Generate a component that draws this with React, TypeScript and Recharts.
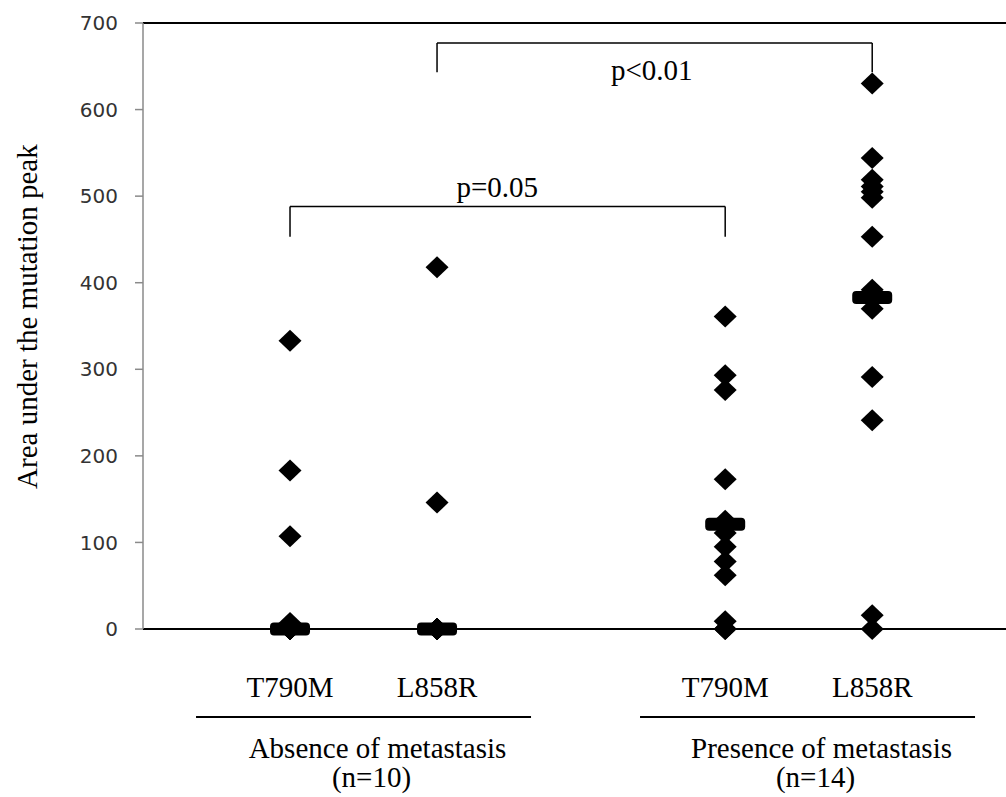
import { ScatterChart, Scatter, XAxis, YAxis, ReferenceLine, ReferenceDot } from 'recharts';

// mutation categories along the x axis
const categories = ['T790M', 'L858R', 'T790M', 'L858R'];
const slots = [1, 2, 3.96, 4.96];

// area under the mutation peak, one value per patient
const absenceT790M = [333, 183, 107, 7, 0, 0, 0, 0, 0, 0];
const absenceL858R = [418, 146, 0, 0, 0, 0, 0, 0, 0, 0];
const presenceT790M = [361, 293, 276, 173, 125, 121, 118, 111, 95, 78, 62, 9, 0, 0];
const presenceL858R = [630, 544, 519, 511, 505, 498, 453, 392, 383, 370, 291, 241, 16, 0];

// horizontal bar per category
const centreValues = [0, 0, 121, 383];

const groups = ['Absence of metastasis', 'Presence of metastasis'];
const groupCounts = ['(n=10)', '(n=14)'];
const groupSlots = [1.5, 4.52];

const yTicks = [0, 100, 200, 300, 400, 500, 600, 700];

// significance brackets
const brackets = [
  { from: 2, to: 4.96, top: 677, leg: 643, text: 'p<0.01', tx: 3.46, ty: 634 },
  { from: 1, to: 3.96, top: 488, leg: 453, text: 'p=0.05', tx: 2.41, ty: 499 },
];

const serif = "'Times New Roman', 'Liberation Serif', serif";

const series = [absenceT790M, absenceL858R, presenceT790M, presenceL858R];
const points = series.flatMap((vals, i) => vals.map((v) => ({ x: slots[i], y: v })));
const centres = centreValues.map((v, i) => ({ x: slots[i], y: v }));
const groupAnchors = groupSlots.map((x) => ({ x, y: 0 }));

const Diamond = ({ cx, cy }: any) => (
  <polygon
    points={`${cx},${cy - 11} ${cx + 11.5},${cy} ${cx},${cy + 11} ${cx - 11.5},${cy}`}
    fill="#000"
  />
);

const CentreBar = ({ cx, cy }: any) => (
  <rect x={cx - 20} y={cy - 6.5} width={40} height={13} rx={4} fill="#000" />
);

const Nothing = () => <g />;

const CategoryTick = ({ x, y, index }: any) => (
  <text x={x} y={y + 68} textAnchor="middle" fontFamily={serif} fontSize={29} fill="#000">
    {categories[index]}
  </text>
);

const GroupTick = ({ x, y, index }: any) => (
  <g>
    <line x1={x - 167.5} x2={x + 167.5} y1={y + 58} y2={y + 58} stroke="#000" strokeWidth={2} />
    <text x={x + 14} y={y + 99} textAnchor="middle" fontFamily={serif} fontSize={29} fill="#000">
      {groups[index]}
    </text>
    <text x={x + 8} y={y + 128} textAnchor="middle" fontFamily={serif} fontSize={29} fill="#000">
      {groupCounts[index]}
    </text>
  </g>
);

const YLabel = ({ viewBox }: any) => {
  const x = viewBox.x + 37;
  const y = viewBox.y + 293.6;
  return (
    <text
      x={x}
      y={y}
      transform={`rotate(-90, ${x}, ${y})`}
      textAnchor="middle"
      fontFamily={serif}
      fontSize={29}
      fill="#000"
    >
      Area under the mutation peak
    </text>
  );
};

const bracketLabel = (text: string) => ({ viewBox }: any) => (
  <text x={viewBox.x} y={viewBox.y} textAnchor="middle" fontFamily={serif} fontSize={29} fill="#000">
    {text}
  </text>
);

export default function App() {
  return (
    <div style={{ position: 'absolute', left: 0, top: 0, background: '#fff' }}>
      <ScatterChart width={1006} height={797} margin={{ top: 23, right: 0, bottom: 0, left: 0 }}>
        <XAxis
          type="number"
          dataKey="x"
          domain={[0, 5.87]}
          ticks={slots}
          interval={0}
          tickLine={false}
          tickSize={0}
          tickMargin={0}
          height={30}
          axisLine={{ stroke: '#000', strokeWidth: 2 }}
          tick={<CategoryTick />}
        />
        <XAxis
          xAxisId="groups"
          type="number"
          dataKey="x"
          domain={[0, 5.87]}
          ticks={groupSlots}
          interval={0}
          tickLine={false}
          tickSize={0}
          tickMargin={0}
          height={138}
          axisLine={false}
          tick={<GroupTick />}
        />
        <YAxis
          type="number"
          dataKey="y"
          domain={[0, 700]}
          ticks={yTicks}
          interval={0}
          width={143}
          tickSize={8}
          tickMargin={17}
          axisLine={{ stroke: '#8a8a8a', strokeWidth: 1.5 }}
          tickLine={{ stroke: '#8a8a8a', strokeWidth: 1.5 }}
          tick={{ fill: '#333', fontSize: 20, fontFamily: "'DejaVu Sans', Verdana, sans-serif" }}
          label={<YLabel />}
        />
        <ReferenceLine y={700} stroke="#000" strokeWidth={2} />
        {brackets.map((b, i) => (
          <ReferenceLine
            key={`h${i}`}
            segment={[{ x: b.from, y: b.top }, { x: b.to, y: b.top }]}
            stroke="#000"
            strokeWidth={1.5}
          />
        ))}
        {brackets.map((b, i) => (
          <ReferenceLine
            key={`l${i}`}
            segment={[{ x: b.from, y: b.top }, { x: b.from, y: b.leg }]}
            stroke="#000"
            strokeWidth={1.5}
          />
        ))}
        {brackets.map((b, i) => (
          <ReferenceLine
            key={`r${i}`}
            segment={[{ x: b.to, y: b.top }, { x: b.to, y: b.leg }]}
            stroke="#000"
            strokeWidth={1.5}
          />
        ))}
        {brackets.map((b, i) => (
          <ReferenceDot
            key={`t${i}`}
            x={b.tx}
            y={b.ty}
            r={0}
            fill="none"
            stroke="none"
            label={bracketLabel(b.text)}
          />
        ))}
        <Scatter xAxisId="groups" data={groupAnchors} shape={<Nothing />} isAnimationActive={false} />
        <Scatter data={points} shape={<Diamond />} isAnimationActive={false} />
        <Scatter data={centres} shape={<CentreBar />} isAnimationActive={false} />
      </ScatterChart>
    </div>
  );
}
